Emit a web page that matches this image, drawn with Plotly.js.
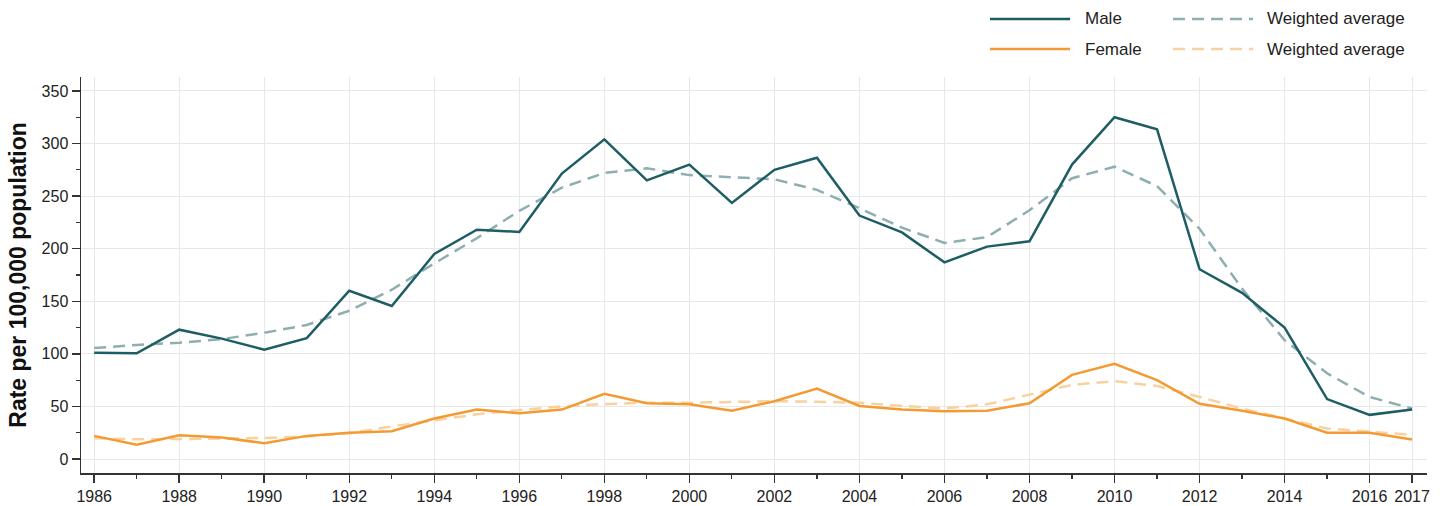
<!DOCTYPE html>
<html>
<head>
<meta charset="utf-8">
<script src="https://cdn.plot.ly/plotly-3.0.1.min.js"></script>
<style>
html,body{margin:0;padding:0;background:#fff;}
#chart{width:1445px;height:506px;}
</style>
</head>
<body>
<div id="chart"></div>
<script>
var years = [1986,1987,1988,1989,1990,1991,1992,1993,1994,1995,1996,1997,1998,1999,2000,2001,2002,2003,2004,2005,2006,2007,2008,2009,2010,2011,2012,2013,2014,2015,2016,2017];
var male = [101,100.5,123,114.5,104,115,160,145.5,195,218,216,271.5,304,265,280,243.5,275,286.5,231.5,215.5,187,202,207,280,325,313.5,180.5,158,125,57,42,47];
var maleAvg = [105.5,108.5,110.5,114,120,127.5,141,161,186,210,236,258,272,276.5,270,268,266,256,238.5,220,205.5,211,236.5,267,278,259.5,219,162,113,81.5,59,48];
var female = [22,13.5,22.5,20.5,15,22,25,26.5,38.5,47,43.5,47,62,53,52,46,55,67,50.5,47,45.5,46,53,80,90.5,75,52.5,46,38.5,25,25,18.5];
var femaleAvg = [19.7,18.7,19,19.5,20,21.5,24.5,31,37,42.5,46.5,50,52.3,53.5,53.5,54,55,54.5,53.5,50.5,48,52,61,70.5,74,69.5,59,48,38.5,29,26,23];
var xTickVals = [1986,1988,1990,1992,1994,1996,1998,2000,2002,2004,2006,2008,2010,2012,2014,2016,2017];
var xTickText = ['1986','1988','1990','1992','1994','1996','1998','2000','2002','2004','2006','2008','2010','2012','2014','2016','2017'];
var xMinorVals = [1987,1989,1991,1993,1995,1997,1999,2001,2003,2005,2007,2009,2011,2013,2015];
var yTickVals = [0,50,100,150,200,250,300,350];
var legendNames = ['Male','Female','Weighted average','Weighted average'];

var cMale = '#1d5d63', cMaleAvg = '#8eaeb0', cFem = '#f39a33', cFemAvg = '#f8d1a0';
var dashPat = '12px,7px';

var traces = [
  {x: years, y: maleAvg, mode: 'lines', name: legendNames[2], line: {color: cMaleAvg, width: 2.5, dash: dashPat}},
  {x: years, y: femaleAvg, mode: 'lines', name: legendNames[3], line: {color: cFemAvg, width: 2.5, dash: dashPat}},
  {x: years, y: male, mode: 'lines', name: legendNames[0], line: {color: cMale, width: 2.5}},
  {x: years, y: female, mode: 'lines', name: legendNames[1], line: {color: cFem, width: 2.5}}
];

var font = 'Liberation Sans, Arial, sans-serif';
var txtColor = '#222';

// custom legend (paper coordinates)
var row1 = 1.1465, row2 = 1.0707;
var shapes = [
  {type:'line', xref:'paper', yref:'paper', x0:0.6753, x1:0.7348, y0:row1, y1:row1, line:{color:cMale, width:2.5}},
  {type:'line', xref:'paper', yref:'paper', x0:0.6753, x1:0.7348, y0:row2, y1:row2, line:{color:cFem, width:2.5}},
  {type:'line', xref:'paper', yref:'paper', x0:0.8113, x1:0.8707, y0:row1, y1:row1, line:{color:cMaleAvg, width:2.5, dash:dashPat}},
  {type:'line', xref:'paper', yref:'paper', x0:0.8113, x1:0.8707, y0:row2, y1:row2, line:{color:cFemAvg, width:2.5, dash:dashPat}}
];
var legFont = {family: font, size: 17, color: txtColor};
var annotations = [
  {xref:'paper', yref:'paper', x:0.7444, y:row1, text:legendNames[0], showarrow:false, xanchor:'left', yanchor:'middle', font:legFont},
  {xref:'paper', yref:'paper', x:0.7444, y:row2, text:legendNames[1], showarrow:false, xanchor:'left', yanchor:'middle', font:legFont},
  {xref:'paper', yref:'paper', x:0.8796, y:row1, text:legendNames[2], showarrow:false, xanchor:'left', yanchor:'middle', font:legFont},
  {xref:'paper', yref:'paper', x:0.8796, y:row2, text:legendNames[3], showarrow:false, xanchor:'left', yanchor:'middle', font:legFont}
];

var layout = {
  width: 1445, height: 506,
  margin: {l: 81, r: 18, t: 77, b: 33},
  paper_bgcolor: '#fff', plot_bgcolor: '#fff',
  showlegend: false,
  font: {family: font, color: txtColor},
  xaxis: {
    range: [1985.69, 2017.35],
    tickmode: 'array', tickvals: xTickVals, ticktext: xTickText,
    ticks: 'outside', ticklen: 8, tickwidth: 1.5, tickcolor: '#333',
    showline: true, linecolor: '#333', linewidth: 1.5,
    showgrid: true, gridcolor: '#e8e8e8', gridwidth: 1,
    zeroline: false,
    tickfont: {family: font, size: 16, color: txtColor},
    minor: {tickmode: 'array', tickvals: xMinorVals, ticks: 'outside', ticklen: 4, tickwidth: 1.2, tickcolor: '#333', showgrid: false}
  },
  yaxis: {
    range: [-13.3, 363.3],
    tickmode: 'array', tickvals: yTickVals,
    ticks: 'outside', ticklen: 8, tickwidth: 1.5, tickcolor: '#333',
    showline: true, linecolor: '#333', linewidth: 1.5,
    showgrid: true, gridcolor: '#e8e8e8', gridwidth: 1,
    zeroline: false,
    tickfont: {family: font, size: 16, color: txtColor},
    minor: {dtick: 25, tick0: 0, ticks: 'outside', ticklen: 4, tickwidth: 1.2, tickcolor: '#333', showgrid: false},
    title: {text: 'Rate per 100,000 population', font: {family: font, size: 23, color: '#111', weight: 'bold'}, standoff: 8}
  },
  shapes: shapes,
  annotations: annotations
};

Plotly.newPlot('chart', traces, layout, {displayModeBar: false, staticPlot: true});
</script>
</body>
</html>
